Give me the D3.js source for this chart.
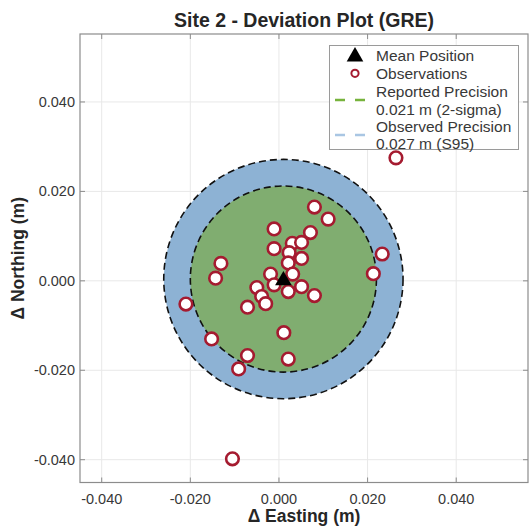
<!DOCTYPE html>
<html>
<head>
<meta charset="utf-8">
<script src="https://cdn.jsdelivr.net/npm/d3@7"></script>
<style>
  body { margin: 0; background: #fff; }
  svg { display: block; font-family: "Liberation Sans", Arial, sans-serif; }
</style>
</head>
<body>
<svg id="chart" width="529" height="527"></svg>
<script>
// Observations (delta easting / delta northing, metres).
var eastings = [0.0264, 0.0080, 0.0111, -0.0011, 0.0071, 0.0030, 0.0051, -0.0011,
  0.0023, 0.0051, 0.0021, -0.0131, 0.0233, -0.0143, 0.0213, -0.0019, 0.0031,
  -0.0011, -0.0050, 0.0051, 0.0021, 0.0080, -0.0039, -0.0030, -0.0071, -0.0210,
  0.0011, -0.0152, -0.0071, 0.0021, -0.0091, -0.0105];
var northings = [0.0275, 0.0165, 0.0138, 0.0116, 0.0108, 0.0084, 0.0086, 0.0072,
  0.0063, 0.0050, 0.0040, 0.0039, 0.0060, 0.0006, 0.0016, 0.0015, 0.0015,
  -0.0009, -0.0015, -0.0013, -0.0024, -0.0033, -0.0035, -0.0051, -0.0059, -0.0052,
  -0.0116, -0.0130, -0.0167, -0.0175, -0.0197, -0.0398];

// Mean position and precision radii.
var meanPosition = [0.001, 0.0004];
var reportedPrecision = 0.021;
var observedPrecision = 0.027;

// Ticks.
var tickValues = [-0.04, -0.02, 0, 0.02, 0.04];

// Legend entries.
var legendLabels = [
  ['Mean Position'],
  ['Observations'],
  ['Reported Precision', '0.021 m (2-sigma)'],
  ['Observed Precision', '0.027 m (S95)']
];

// Layout.
var kLeft = 80, kRight = 528, kTop = 34, kBottom = 482.5;
var kAxisColor = '#8c8c8c';
var kGridColor = '#e8e8e8';
var kTextColor = '#383838';
var kRed = '#a51b30';

var svg = d3.select('#chart');

var x = d3.scaleLinear().domain([-0.0449, 0.0562]).range([kLeft, kRight]);
var y = d3.scaleLinear().domain([-0.0451, 0.0552]).range([kBottom, kTop]);

// Title.
svg.append('text')
  .attr('x', (kLeft + kRight) / 2)
  .attr('y', 27)
  .attr('text-anchor', 'middle')
  .attr('font-size', 19.5)
  .attr('font-weight', 'bold')
  .attr('fill', '#262626')
  .text('Site 2 - Deviation Plot (GRE)');

// Clip to plot area.
svg.append('clipPath').attr('id', 'plot-clip')
  .append('rect')
  .attr('x', kLeft).attr('y', kTop)
  .attr('width', kRight - kLeft).attr('height', kBottom - kTop);

var plot = svg.append('g').attr('clip-path', 'url(#plot-clip)');

// Grid lines.
plot.selectAll('line.gx').data(tickValues).enter().append('line')
  .attr('class', 'gx')
  .attr('x1', function(d) { return x(d); }).attr('x2', function(d) { return x(d); })
  .attr('y1', kTop).attr('y2', kBottom)
  .attr('stroke', kGridColor).attr('stroke-width', 1);
plot.selectAll('line.gy').data(tickValues).enter().append('line')
  .attr('class', 'gy')
  .attr('y1', function(d) { return y(d); }).attr('y2', function(d) { return y(d); })
  .attr('x1', kLeft).attr('x2', kRight)
  .attr('stroke', kGridColor).attr('stroke-width', 1);

// Precision circles.
var pxPerUnit = x(1) - x(0);
function PrecisionCircle(radius, fill)
{
  plot.append('circle')
    .attr('cx', x(meanPosition[0]))
    .attr('cy', y(meanPosition[1]))
    .attr('r', radius * pxPerUnit)
    .attr('fill', fill)
    .attr('stroke', '#111')
    .attr('stroke-width', 1.6)
    .attr('stroke-dasharray', '7,4');
}
PrecisionCircle(observedPrecision, '#8db2d4');
PrecisionCircle(reportedPrecision, '#80ad70');

// Observations.
plot.selectAll('circle.obs').data(d3.range(eastings.length)).enter().append('circle')
  .attr('class', 'obs')
  .attr('cx', function(i) { return x(eastings[i]); })
  .attr('cy', function(i) { return y(northings[i]); })
  .attr('r', 6.3)
  .attr('fill', '#fff')
  .attr('stroke', kRed)
  .attr('stroke-width', 2.6);

// Mean position marker.
var triangle = d3.symbol().type(d3.symbolTriangle).size(120);
plot.append('path')
  .attr('d', triangle())
  .attr('transform', 'translate(' + x(meanPosition[0]) + ',' + (y(meanPosition[1]) + 1.5) + ')')
  .attr('fill', '#000');

// Axes box.
svg.append('rect')
  .attr('x', kLeft).attr('y', kTop)
  .attr('width', kRight - kLeft).attr('height', kBottom - kTop)
  .attr('fill', 'none').attr('stroke', kAxisColor).attr('stroke-width', 1.2);

// Inward ticks on all four sides.
function Ticks(values, horizontal)
{
  values.forEach(function(v) {
    if (horizontal)
    {
      svg.append('line').attr('x1', x(v)).attr('x2', x(v))
        .attr('y1', kBottom).attr('y2', kBottom - 5).attr('stroke', kAxisColor);
      svg.append('line').attr('x1', x(v)).attr('x2', x(v))
        .attr('y1', kTop).attr('y2', kTop + 5).attr('stroke', kAxisColor);
    }
    else
    {
      svg.append('line').attr('y1', y(v)).attr('y2', y(v))
        .attr('x1', kLeft).attr('x2', kLeft + 5).attr('stroke', kAxisColor);
      svg.append('line').attr('y1', y(v)).attr('y2', y(v))
        .attr('x1', kRight).attr('x2', kRight - 5).attr('stroke', kAxisColor);
    }
  });
}
Ticks(tickValues, true);
Ticks(tickValues, false);

// Tick labels (plain hyphen for the minus sign).
var fmt = function(d) { return d3.format('.3f')(d).replace('\u2212', '-'); };
svg.selectAll('text.xt').data(tickValues).enter().append('text')
  .attr('class', 'xt')
  .attr('x', function(d) { return x(d); })
  .attr('y', 503.5)
  .attr('text-anchor', 'middle')
  .attr('font-size', 14.5)
  .attr('fill', kTextColor)
  .text(fmt);
svg.selectAll('text.yt').data(tickValues).enter().append('text')
  .attr('class', 'yt')
  .attr('x', 75)
  .attr('y', function(d) { return y(d) + 5; })
  .attr('text-anchor', 'end')
  .attr('font-size', 14.5)
  .attr('fill', kTextColor)
  .text(fmt);

// Axis labels.
svg.append('text')
  .attr('x', (kLeft + kRight) / 2)
  .attr('y', 522)
  .attr('text-anchor', 'middle')
  .attr('font-size', 17.5)
  .attr('font-weight', 'bold')
  .attr('fill', '#262626')
  .text('\u0394 Easting (m)');
svg.append('text')
  .attr('transform', 'translate(24,' + ((kTop + kBottom) / 2) + ') rotate(-90)')
  .attr('text-anchor', 'middle')
  .attr('font-size', 17.5)
  .attr('font-weight', 'bold')
  .attr('fill', '#262626')
  .text('\u0394 Northing (m)');

// Legend.
var legend = svg.append('g');
legend.append('rect')
  .attr('x', 329.5).attr('y', 45.5)
  .attr('width', 189).attr('height', 104)
  .attr('fill', '#fff').attr('stroke', '#9a9a9a').attr('stroke-width', 1);

var kRowY = [55.7, 73.3, 91, 109, 126.5, 143.5];
var row = 0;
legendLabels.forEach(function(lines, i) {
  var top = kRowY[row];
  var mid = (kRowY[row] + kRowY[row + lines.length - 1]) / 2;
  lines.forEach(function(line, j) {
    legend.append('text')
      .attr('x', 376)
      .attr('y', kRowY[row + j] + 5.5)
      .attr('font-size', 15.5)
      .attr('fill', kTextColor)
      .text(line);
  });
  if (i == 0)
  {
    legend.append('path')
      .attr('d', triangle())
      .attr('transform', 'translate(355,' + (top + 1) + ')')
      .attr('fill', '#000');
  }
  else if (i == 1)
  {
    legend.append('circle')
      .attr('cx', 355).attr('cy', top)
      .attr('r', 3.6).attr('fill', '#fff')
      .attr('stroke', kRed).attr('stroke-width', 2);
  }
  else
  {
    legend.append('line')
      .attr('x1', 335).attr('x2', 367)
      .attr('y1', mid).attr('y2', mid)
      .attr('stroke', i == 2 ? '#77b33c' : '#a9c6e3')
      .attr('stroke-width', 2.4)
      .attr('stroke-dasharray', '10,10');
  }
  row += lines.length;
});
</script>
</body>
</html>
